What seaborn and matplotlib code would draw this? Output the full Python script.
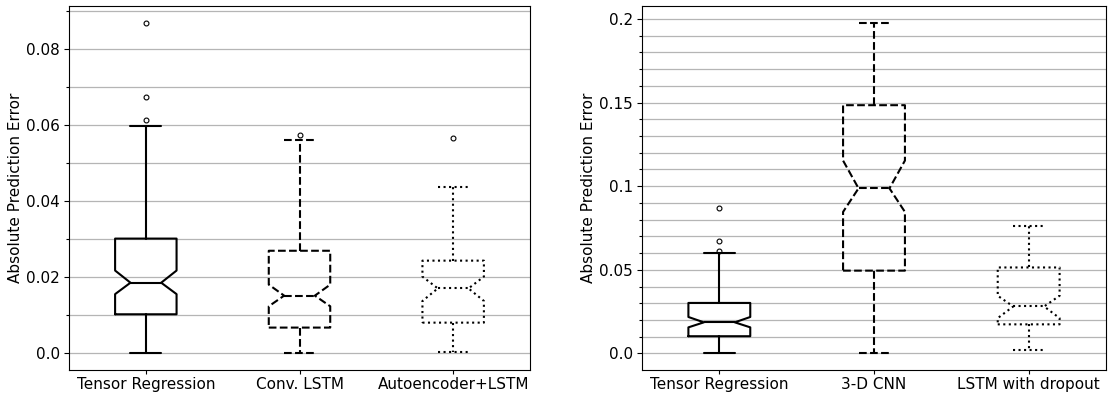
import matplotlib
matplotlib.use("Agg")
import matplotlib.pyplot as plt
import seaborn as sns
from matplotlib.ticker import MultipleLocator, FixedLocator, FixedFormatter

sns.set_style("ticks")
plt.rcParams['font.family'] = ['DejaVu Sans']
plt.rcParams.update({"text.color": "black", "axes.labelcolor": "black",
                     "xtick.color": "black", "ytick.color": "black"})

# ---- data (summary statistics) ----
left_labels = ["Tensor Regression", "Conv. LSTM", "Autoencoder+LSTM"]
left_whislo = [0.0, 0.0, 0.0003]
left_q1 = [0.0103, 0.0068, 0.0081]
left_med = [0.0186, 0.0152, 0.0171]
left_q3 = [0.0302, 0.0270, 0.0244]
left_whishi = [0.0599, 0.0561, 0.0437]
left_cilo = [0.0156, 0.0124, 0.0138]
left_cihi = [0.0218, 0.0181, 0.0202]
left_fliers = [[0.0614, 0.0674, 0.0870], [0.0575], [0.0566]]

right_labels = ["Tensor Regression", "3-D CNN", "LSTM with dropout"]
right_whislo = [0.0, 0.0, 0.0022]
right_q1 = [0.0103, 0.0495, 0.0174]
right_med = [0.0186, 0.0987, 0.0281]
right_q3 = [0.0302, 0.1484, 0.0514]
right_whishi = [0.0599, 0.1978, 0.0762]
right_cilo = [0.0156, 0.0846, 0.0211]
right_cihi = [0.0218, 0.1153, 0.0345]
right_fliers = [[0.0614, 0.0674, 0.0870], [], []]

left_ticks = [0.0, 0.02, 0.04, 0.06, 0.08]
left_ticklabels = ["0.0", "0.02", "0.04", "0.06", "0.08"]
right_ticks = [0.0, 0.05, 0.1, 0.15, 0.2]
right_ticklabels = ["0.0", "0.05", "0.1", "0.15", "0.2"]

styles = ["-", "--", ":"]


def make_stats(labels, whislo, q1, med, q3, whishi, cilo, cihi, fliers):
    out = []
    for i in range(len(labels)):
        out.append(dict(label=labels[i], whislo=whislo[i], q1=q1[i], med=med[i],
                        q3=q3[i], whishi=whishi[i], cilo=cilo[i], cihi=cihi[i],
                        fliers=fliers[i]))
    return out


def draw(ax, stats, ticks, ticklabels, minor):
    art = ax.bxp(stats, positions=[1, 2, 3], widths=0.4, shownotches=True,
                 boxprops=dict(color="black", lw=1.5),
                 medianprops=dict(color="black", lw=1.5),
                 whiskerprops=dict(color="black", lw=1.5),
                 capprops=dict(color="black", lw=1.5),
                 flierprops=dict(marker="o", markersize=3.5, markerfacecolor="none",
                                 markeredgecolor="black", markeredgewidth=0.8))
    for i, ls in enumerate(styles):
        art["boxes"][i].set_linestyle(ls)
        art["medians"][i].set_linestyle(ls)
        for w in art["whiskers"][2 * i:2 * i + 2]:
            w.set_linestyle(ls)
        for c in art["caps"][2 * i:2 * i + 2]:
            c.set_linestyle(ls)
    ax.set_xlim(0.5, 3.5)
    ax.yaxis.set_major_locator(FixedLocator(ticks))
    ax.yaxis.set_major_formatter(FixedFormatter(ticklabels))
    ax.yaxis.set_minor_locator(MultipleLocator(minor))
    ax.yaxis.grid(True, which="both", color="#b5b5b5", lw=0.9)
    ax.xaxis.grid(False)
    ax.set_axisbelow(True)
    ax.set_ylabel("Absolute Prediction Error", fontsize=11, labelpad=2)
    ax.tick_params(axis="both", which="major", labelsize=11, width=0.8,
                   color="black", direction="out")
    ax.tick_params(axis="y", which="major", length=3.5, pad=3)
    ax.tick_params(axis="x", which="major", length=3, pad=2)
    ax.tick_params(axis="y", which="minor", length=2, width=0.8, color="black")
    for s in ax.spines.values():
        s.set_visible(True)
        s.set_color("black")
        s.set_linewidth(0.8)


fig = plt.figure(figsize=(11.12, 3.93), dpi=100)
ax1 = fig.add_axes([69 / 1112, 23 / 393, 461 / 1112, 364 / 393])
ax2 = fig.add_axes([642 / 1112, 23 / 393, 464 / 1112, 364 / 393])

draw(ax1, make_stats(left_labels, left_whislo, left_q1, left_med, left_q3, left_whishi,
                     left_cilo, left_cihi, left_fliers), left_ticks, left_ticklabels, 0.01)
draw(ax2, make_stats(right_labels, right_whislo, right_q1, right_med, right_q3, right_whishi,
                     right_cilo, right_cihi, right_fliers), right_ticks, right_ticklabels, 0.01)

fig.savefig("out.png", dpi=100)
